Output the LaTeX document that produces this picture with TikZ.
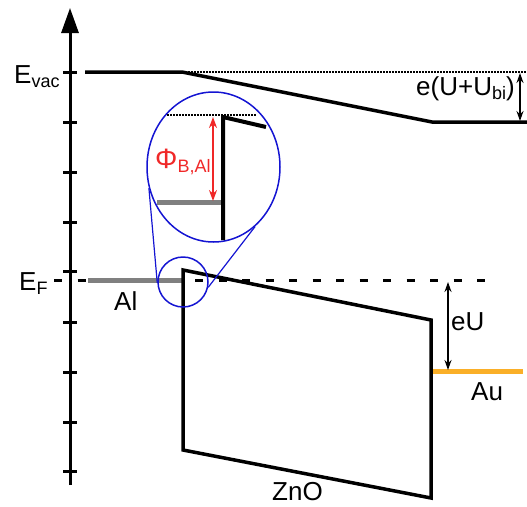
\documentclass[tikz,border=0pt]{standalone}
\usepackage{fontspec}
\setmainfont{Liberation Sans}
\usetikzlibrary{arrows.meta,shapes.geometric}
\definecolor{magblue}{RGB}{20,20,210}
\definecolor{algray}{RGB}{128,128,128}
\definecolor{auorange}{RGB}{250,175,40}
\definecolor{phired}{RGB}{240,40,40}
\newcommand\lbl{\fontsize{26}{30}\selectfont}
\newcommand\subtxt[1]{\raisebox{-4pt}{\fontsize{18}{20}\selectfont #1}}
\begin{document}
\begin{tikzpicture}[x=1pt,y=-1pt,
  band/.style={line width=3.5pt, line join=miter},
  axisline/.style={line width=3pt},
  tickline/.style={line width=3pt},
  efdash/.style={line width=3pt, dash pattern=on 8pt off 15.5pt},
  dotline/.style={line width=1.3pt, dash pattern=on 1.5pt off 1.5pt},
  metal/.style={line width=5pt},
  dimarrow/.style={line width=1.5pt, {Stealth[length=10pt,width=7pt]}-{Stealth[length=10pt,width=7pt]}},
  magline/.style={draw=magblue, line width=1.2pt},
  txt/.style={anchor=base west, inner sep=0pt, font=\lbl}]
\useasboundingbox (0,0) rectangle (527,506);

% Fermi level dashed line
\coordinate (efl) at (54,280);
\coordinate (efr) at (500,280);
\draw[efdash] (efl) -- (efr);

% axis
\coordinate (axb) at (70,485);
\coordinate (axt) at (70,8);
\draw[axisline, -{Triangle[length=25pt,width=17pt]}] (axb) -- (axt);
\foreach \y in {72,122,172,222,271,322,372,422,471}
  \draw[tickline] (63,\y) -- (77,\y);

% vacuum level
\coordinate (v1) at (85,72);
\coordinate (v2) at (182,72);
\coordinate (v3) at (432,122);
\coordinate (v4) at (527,122);
\coordinate (vd) at (527,72);
\draw[dotline] (v2) -- (vd);
\draw[band] (v1) -- (v2) -- (v3) -- (v4);

% Al
\coordinate (al1) at (88,280);
\coordinate (al2) at (182,280);
\draw[metal, algray] (al1) -- (al2);

% ZnO
\coordinate (z1) at (183,270);
\coordinate (z2) at (431,320);
\coordinate (z3) at (431,498);
\coordinate (z4) at (183,450);
\draw[band] (z1) -- (z2) -- (z3) -- (z4) -- cycle;

% Au
\coordinate (au1) at (433,371);
\coordinate (au2) at (523,371);
\draw[metal, auorange] (au1) -- (au2);

% arrows
\coordinate (eu1) at (448,282);
\coordinate (eu2) at (448,370);
\draw[dimarrow] (eu1) -- (eu2);
\coordinate (ub1) at (520,73);
\coordinate (ub2) at (520,121);
\draw[dimarrow] (ub1) -- (ub2);

% magnifier
\node[ellipse, draw=magblue, line width=1.5pt, minimum width=133pt, minimum height=150pt, inner sep=0pt] (big) at (213.5,167) {};
\node[circle, draw=magblue, line width=1.5pt, minimum size=50pt, inner sep=0pt] (small) at (183,282) {};
\draw[magline] (big.198) -- (small.182);
\draw[magline] (big.305) -- (small.348);

\coordinate (m1) at (167,115);
\coordinate (m2) at (257,115);
\draw[dotline] (m1) -- (m2);
\coordinate (mg1) at (157,202);
\coordinate (mg2) at (223,202);
\draw[metal, algray] (mg1) -- (mg2);
\coordinate (mt) at (266,127);
\coordinate (mc) at (223,117);
\coordinate (mb) at (223,240);
\draw[band, line width=4pt] (mt) -- (mc) -- (mb);
\coordinate (ph1) at (213,117);
\coordinate (ph2) at (213,201);
\draw[phired, line width=2.5pt, {Stealth[length=11pt,width=8pt]}-{Stealth[length=11pt,width=8pt]}] (ph1) -- (ph2);

% labels
\node[txt] (levac) at (14,83) {E\subtxt{vac}};
\node[txt] (lef) at (19,290) {E\subtxt{F}};
\node[txt] (lal) at (114,310) {Al};
\node[txt] (lzno) at (272,500) {ZnO};
\node[txt] (lau) at (471,400) {Au};
\node[txt] (leu) at (451,330) {eU};
\node[txt] (lub) at (416,95) {e(U+U\subtxt{bi})};
\node[txt, text=phired] (lphi) at (155,168) {\fontsize{28}{30}\selectfont Φ\subtxt{B,Al}};
\end{tikzpicture}
\end{document}
